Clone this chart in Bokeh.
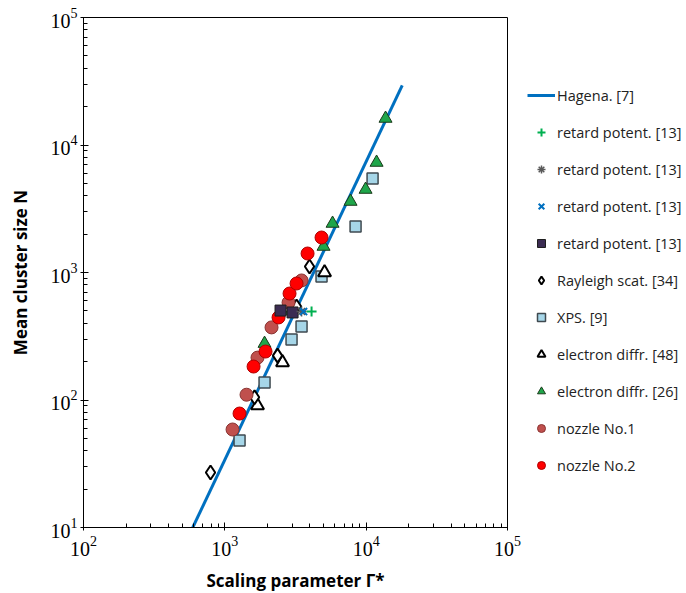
from bokeh.plotting import figure
from bokeh.models import Legend, LegendItem, LogTicker
from bokeh.embed import file_html
from bokeh.resources import INLINE

# ---- data ----
hagena_x = [593, 18000]
hagena_y = [10, 29300]

retard_plus_x = [4108]
retard_plus_y = [494]
retard_ast_x = [3490]
retard_ast_y = [494]
retard_x_x = [3606]
retard_x_y = [494]
retard_sq_x = [2478, 3014]
retard_sq_y = [503, 486]

rayleigh_x = [792, 1623, 2360, 3218, 3975]
rayleigh_y = [27.0, 105, 223, 541, 1114]

xps_x = [1271, 1910, 2965, 3490, 4833, 8414, 11100]
xps_y = [48.1, 137, 298, 377, 930, 2295, 5460]

ed48_x = [1703, 2560, 5077]
ed48_y = [90.5, 197, 1000]

ed26_x = [1910, 2965, 4995, 5785, 7755, 9903, 11850, 13710]
ed26_y = [277, 503, 1599, 2423, 3603, 4475, 7290, 16140]

noz1_x = [1134, 1424, 1703, 2140, 2824, 3490]
noz1_y = [58.7, 110, 215, 371, 582, 866]

noz2_x = [1271, 1597, 1941, 2399, 2870, 3218, 3849, 4833]
noz2_y = [78.3, 183, 240, 444, 684, 820, 1409, 1881]

labels = ["Hagena. [7]", "retard potent. [13]", "retard potent. [13]",
          "retard potent. [13]", "retard potent. [13]", "Rayleigh scat. [34]",
          "XPS. [9]", "electron diffr. [48]", "electron diffr. [26]",
          "nozzle No.1", "nozzle No.2"]

p = figure(frame_width=424, frame_height=510, x_axis_type="log", y_axis_type="log",
           x_range=(1e2, 1e5), y_range=(1e1, 1e5),
           output_backend="svg", toolbar_location=None,
           min_border_left=83, min_border_top=17, min_border_bottom=66,
           min_border_right=0)

p.xgrid.visible = False
p.ygrid.visible = False
p.outline_line_color = "black"
p.outline_line_width = 1
p.background_fill_color = "white"
p.border_fill_color = "white"

p.xaxis.ticker = LogTicker(mantissas=[1], num_minor_ticks=10)
p.yaxis.ticker = LogTicker(mantissas=[1], num_minor_ticks=10)

for ax in (p.xaxis[0], p.yaxis[0]):
    ax.axis_line_color = "black"
    ax.major_tick_line_color = "black"
    ax.minor_tick_line_color = "black"
    ax.major_tick_in = 5
    ax.major_tick_out = 3
    ax.minor_tick_in = 4
    ax.minor_tick_out = 0
    ax.major_label_text_font = "Liberation Serif"
    ax.major_label_text_font_size = "20px"
    ax.major_label_text_color = "black"
    ax.axis_label_text_font = "Open Sans"
    ax.axis_label_text_font_style = "bold"
    ax.axis_label_text_font_size = "17px"
    ax.axis_label_text_color = "black"

p.xaxis.axis_label = "Scaling parameter Γ*"
p.yaxis.axis_label = "Mean cluster size N"
p.xaxis.major_label_standoff = 5
p.yaxis.major_label_standoff = 3
p.xaxis.axis_label_standoff = 10
p.yaxis.axis_label_standoff = 16

r_hag = p.line(hagena_x, hagena_y, line_color="#0070c0", line_width=3)

r_xps = p.scatter(xps_x, xps_y, marker="square", size=11,
                  fill_color="#a6d6e8", line_color="#3f4a50", line_width=1.5)
r_ed48 = p.scatter(ed48_x, ed48_y, marker="triangle", size=13,
                   fill_color="white", line_color="black", line_width=2)
r_ray = p.scatter(rayleigh_x, rayleigh_y, marker="diamond", size=14,
                  fill_color="white", line_color="black", line_width=2)
r_ed26 = p.scatter(ed26_x, ed26_y, marker="triangle", size=13,
                   fill_color="#1fa64a", line_color="#1a3a1a", line_width=1)
r_n1 = p.scatter(noz1_x, noz1_y, marker="circle", size=13,
                 fill_color="#c0504d", line_color="#8a3432", line_width=1)
r_n2 = p.scatter(noz2_x, noz2_y, marker="circle", size=13,
                 fill_color="#ff0000", line_color="#b00000", line_width=1)
r_sq = p.scatter(retard_sq_x, retard_sq_y, marker="square", size=11,
                 fill_color="#3b2c52", line_color="#1e1e1e", line_width=1)
r_ast = p.scatter(retard_ast_x, retard_ast_y, marker="asterisk", size=10,
                  line_color="#595959", line_width=1.5)
r_x = p.scatter(retard_x_x, retard_x_y, marker="x", size=10,
                line_color="#0070c0", line_width=2)
r_plus = p.scatter(retard_plus_x, retard_plus_y, marker="cross", size=10,
                   line_color="#00b050", line_width=2)

renderers = [r_hag, r_plus, r_ast, r_x, r_sq, r_ray, r_xps, r_ed48, r_ed26, r_n1, r_n2]
items = [LegendItem(label=l, renderers=[r]) for l, r in zip(labels, renderers)]

legend = Legend(items=items, location=(20, 52))
legend.border_line_color = None
legend.background_fill_alpha = 0
legend.label_text_font = "Open Sans"
legend.label_text_font_size = "14.5px"
legend.label_text_color = "#222222"
legend.glyph_width = 28
legend.glyph_height = 20
legend.spacing = 17
legend.padding = 0
legend.margin = 0
legend.label_standoff = 2
p.add_layout(legend, "right")

open("out.html", "w").write(file_html(p, INLINE))
